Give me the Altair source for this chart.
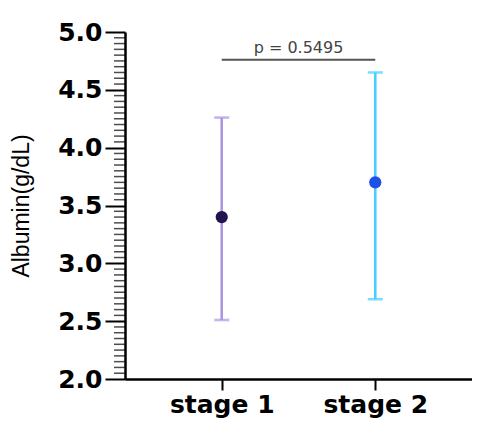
import altair as alt
import pandas as pd

stages = ["stage 1", "stage 2"]
means = [3.40, 3.70]
lows = [2.51, 2.69]
highs = [4.26, 4.65]
bar_colors = ["#ab96e2", "#45d0ff"]
dot_colors = ["#24134f", "#1c50e6"]
p_label = "p = 0.5495"
p_level = 4.76
major_ticks = [2.0, 2.5, 3.0, 3.5, 4.0, 4.5, 5.0]
minor_ticks = [round(2 + 0.05 * i, 2) for i in range(61) if i % 10 != 0]

W, H = 347, 347

df = pd.DataFrame({"stage": stages, "mean": means, "low": lows, "high": highs,
                   "bar": bar_colors, "dot": dot_colors})
sig = pd.DataFrame({"a": [stages[0]], "b": [stages[1]], "y": [p_level], "label": [p_label]})
minor_df = pd.DataFrame({"v": minor_ticks})

xscale = alt.Scale(type="point", padding=0.63, domain=stages)
yscale = alt.Scale(domain=[2.0, 5.0], nice=False, zero=False)

x_enc = alt.X("stage:N", scale=xscale, title=None, sort=stages,
              axis=alt.Axis(labelAngle=0, labelFont="DejaVu Sans", labelFontWeight="bold",
                            labelFontSize=25, labelColor="black", labelPadding=2,
                            tickSize=11, tickWidth=2, tickColor="black",
                            domainColor="black", domainWidth=2.5, grid=False))
y_axis = alt.Axis(values=major_ticks, format=".1f", labelOverlap=False,
                  labelFont="DejaVu Sans", labelFontWeight="bold", labelFontSize=25,
                  labelColor="black", labelPadding=3,
                  tickSize=20, tickWidth=2,
                  tickColor="black", domainColor="black", domainWidth=2.5, grid=False,
                  title="Albumin(g/dL)", titleFont="Liberation Sans", titleFontSize=23,
                  titleFontWeight="normal", titleColor="black", titlePadding=24)

base = alt.Chart(df)
bars = base.mark_rule(strokeWidth=2.6).encode(
    x=x_enc,
    y=alt.Y("low:Q", scale=yscale, axis=y_axis),
    y2="high:Q",
    color=alt.Color("bar:N", scale=None),
)
caps_hi = base.mark_tick(size=15, thickness=2.6, orient="horizontal").encode(
    x="stage:N", y="high:Q", color=alt.Color("bar:N", scale=None))
caps_lo = base.mark_tick(size=15, thickness=2.6, orient="horizontal").encode(
    x="stage:N", y="low:Q", color=alt.Color("bar:N", scale=None))
dots = base.mark_point(filled=True, size=150, opacity=1).encode(
    x="stage:N", y="mean:Q", color=alt.Color("dot:N", scale=None))

minor = alt.Chart(minor_df).mark_tick(size=11, thickness=1.5, orient="horizontal",
                                      color="black").encode(
    x=alt.value(-5.5), y="v:Q")

sig_line = alt.Chart(sig).mark_rule(color="#555555", strokeWidth=2).encode(
    x="a:N", x2="b:N", y="y:Q")
sig_text = alt.Chart(sig).mark_text(font="DejaVu Sans", fontSize=16, color="#444444",
                                    baseline="bottom", dy=-4).encode(
    x=alt.value(W / 2), y="y:Q", text="label:N")

chart = alt.layer(bars, caps_hi, caps_lo, dots, minor, sig_line, sig_text).properties(
    width=W, height=H,
    autosize=alt.AutoSizeParams(type="none"),
    padding={"left": 117, "top": 24, "right": 0, "bottom": 46},
).configure_view(stroke=None, clip=False)

chart.save("out.html", embed_options={"renderer": "svg", "actions": False})
